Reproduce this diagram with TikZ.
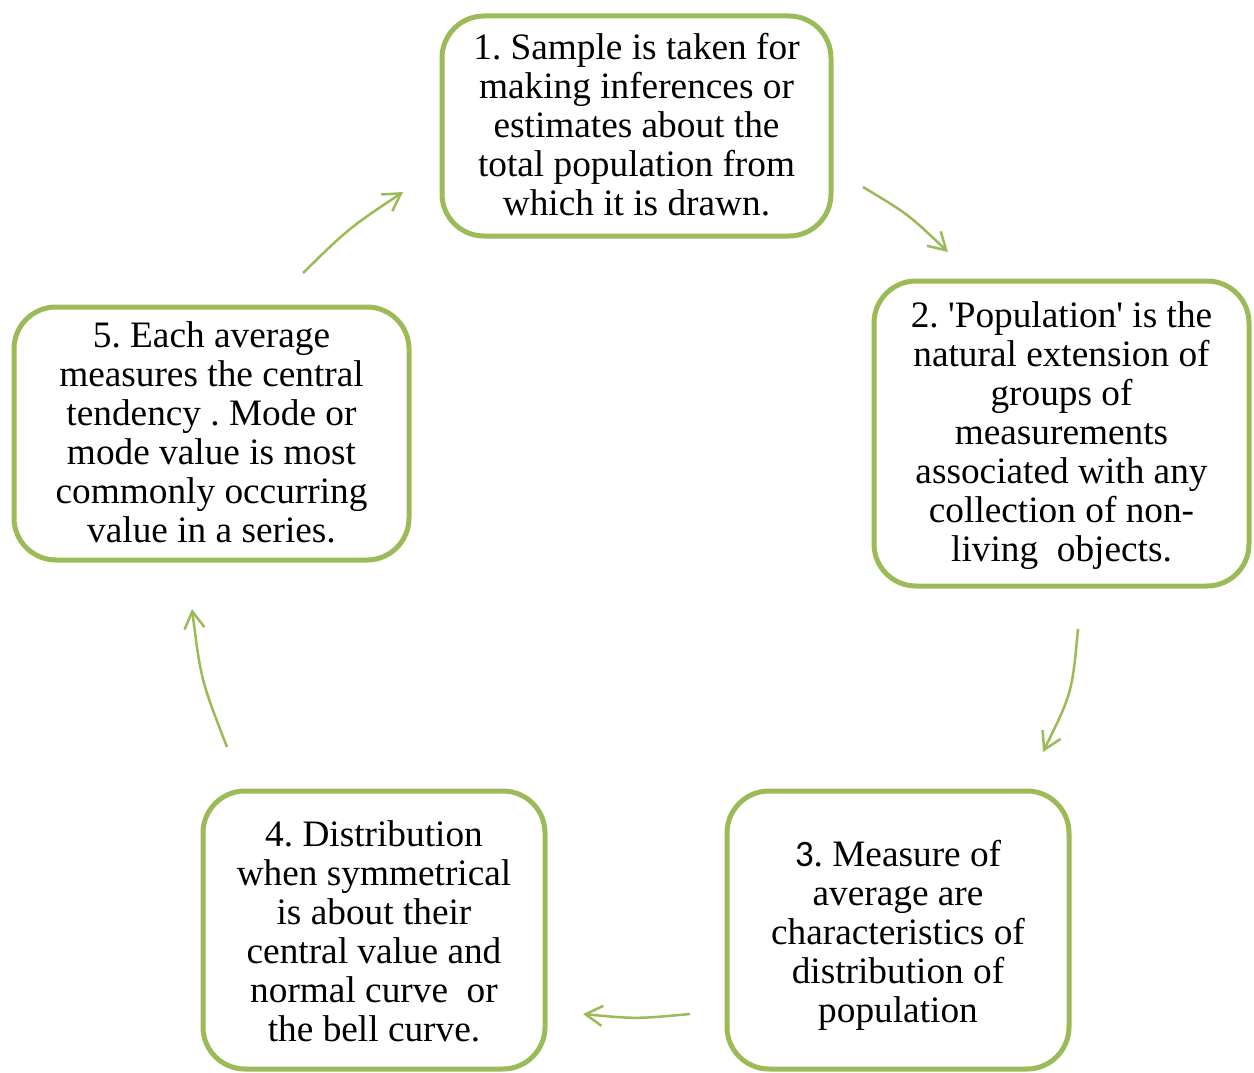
\documentclass[tikz,border=0pt]{standalone}
\usepackage{fontspec}
\setmainfont{Liberation Serif}
\newfontfamily\numfont{Carlito}
\usetikzlibrary{arrows.meta}
\definecolor{ogreen}{RGB}{155,187,89}
\frenchspacing
\begin{document}
\begin{tikzpicture}[x=1pt,y=-1pt,
  box/.style={draw=ogreen,line width=5pt,rounded corners=42pt,fill=white,inner sep=0pt},
  txt/.style={align=center,inner sep=0pt,font=\fontsize{37.3}{39}\selectfont},
  conn/.style={draw=ogreen,line width=2.5pt,-{Straight Barb[length=17pt,width=20pt,line width=2.5pt]}}]
\useasboundingbox (0,0) rectangle (1254,1073);
\node[box,minimum width=389pt,minimum height=220pt] (b1) at (636.5,126) {};
\node[box,minimum width=375pt,minimum height=305pt] (b2) at (1061.5,433.5) {};
\node[box,minimum width=342pt,minimum height=278pt] (b3) at (898,930) {};
\node[box,minimum width=342pt,minimum height=278pt] (b4) at (374,930) {};
\node[box,minimum width=395pt,minimum height=253pt] (b5) at (211.5,433.5) {};
\node[txt] (t1) at ([yshift=1pt]b1.center) {1. Sample is taken for\\making inferences or\\estimates about the\\total population from\\which it is drawn.};
\node[txt] (t2) at ([yshift=-2pt]b2.center) {2. \textquotesingle Population\textquotesingle{} is the\\natural extension of\\groups of\\measurements\\associated with any\\collection of non-\\living\ \ objects.};
\node[txt] (t3) at ([yshift=-5pt]b3.center) {{\numfont 3}. Measure of\\average are\\characteristics of\\distribution of\\population};
\node[txt] (t4) at ([yshift=-1pt]b4.center) {4. Distribution\\when symmetrical\\is about their\\central value and\\normal curve\ \ or\\the bell curve.};
\node[txt] (t5) at ([yshift=1pt]b5.center) {5. Each average\\measures the central\\tendency . Mode or\\mode value is most\\commonly occurring\\value in a series.};
\coordinate (a1s) at (863,187); \coordinate (a1c) at (908,214); \coordinate (a1e) at (948,252);
\coordinate (a2s) at (1078,629); \coordinate (a2c) at (1072,693); \coordinate (a2e) at (1043,752);
\coordinate (a3s) at (690,1014); \coordinate (a3c) at (636,1019); \coordinate (a3e) at (583,1014);
\coordinate (a4s) at (227,747); \coordinate (a4c) at (201,680); \coordinate (a4e) at (192,609);
\coordinate (a5s) at (303,273); \coordinate (a5c) at (349,228); \coordinate (a5e) at (403,192);
\draw[conn] (a1s) .. controls (a1c) .. (a1e);
\draw[conn] (a2s) .. controls (a2c) .. (a2e);
\draw[conn] (a3s) .. controls (a3c) .. (a3e);
\draw[conn] (a4s) .. controls (a4c) .. (a4e);
\draw[conn] (a5s) .. controls (a5c) .. (a5e);
\end{tikzpicture}
\end{document}
